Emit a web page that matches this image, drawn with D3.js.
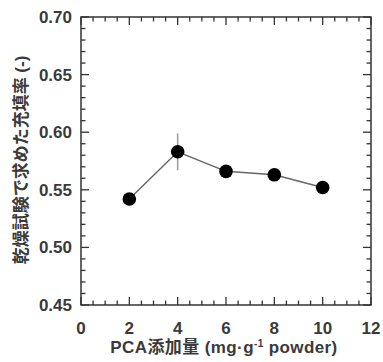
<!DOCTYPE html>
<html>
<head>
<meta charset="utf-8">
<script src="https://cdn.jsdelivr.net/npm/d3@7"></script>
<style>
  body { margin: 0; background: #fff; }
  svg text { font-family: "Liberation Sans", Arial, "Noto Sans CJK JP", sans-serif; fill: #3a3a3a; }
</style>
</head>
<body>
<div id="chart"></div>
<script>
// data
const pcaAmount = [2, 4, 6, 8, 10];
const packingRate = [0.542, 0.583, 0.566, 0.563, 0.552];
const packingErr = [0, 0.016, 0, 0, 0];
const xTicks = [0, 2, 4, 6, 8, 10, 12];
const yTicks = [0.45, 0.50, 0.55, 0.60, 0.65, 0.70];

const width = 383, height = 362;
const margin = {top: 17, right: 12, bottom: 57, left: 81};
const w = width - margin.left - margin.right;
const h = height - margin.top - margin.bottom;

const svg = d3.select("#chart")
    .append("svg")
    .attr("width", width)
    .attr("height", height);

const g = svg.append("g")
    .attr("transform", `translate(${margin.left}, ${margin.top})`);

const x = d3.scaleLinear().domain([0, 12]).range([0, w]);
const y = d3.scaleLinear().domain([0.45, 0.70]).range([h, 0]);

// inward ticks on all four sides
const xMinor = d3.range(0, 12.01, 0.5);
const yMinor = d3.range(0.45, 0.7001, 0.01);
function tickLen(v, step) { return Math.abs(v / step - Math.round(v / step)) < 1e-6 ? 8 : 4.5; }

const ticks = g.append("g").attr("stroke", "#333").attr("stroke-width", 1.3);
xMinor.forEach(v => {
    const L = tickLen(v, 2);
    ticks.append("line").attr("x1", x(v)).attr("x2", x(v)).attr("y1", h).attr("y2", h - L);
    ticks.append("line").attr("x1", x(v)).attr("x2", x(v)).attr("y1", 0).attr("y2", L);
});
yMinor.forEach(v => {
    const L = tickLen(v, 0.05);
    ticks.append("line").attr("y1", y(v)).attr("y2", y(v)).attr("x1", 0).attr("x2", L);
    ticks.append("line").attr("y1", y(v)).attr("y2", y(v)).attr("x1", w).attr("x2", w - L);
});

// frame
g.append("rect")
    .attr("width", w)
    .attr("height", h)
    .attr("fill", "none")
    .attr("stroke", "#333")
    .attr("stroke-width", 1.5);

// tick labels
g.selectAll(".xlab")
    .data(xTicks)
    .enter()
    .append("text")
    .attr("x", d => x(d))
    .attr("y", h + 29)
    .attr("text-anchor", "middle")
    .style("font-size", "17px")
    .style("font-weight", "bold")
    .text(d => d);

g.selectAll(".ylab")
    .data(yTicks)
    .enter()
    .append("text")
    .attr("x", -9)
    .attr("y", d => y(d))
    .attr("dy", "0.35em")
    .attr("text-anchor", "end")
    .style("font-size", "17px")
    .style("font-weight", "bold")
    .text(d => d.toFixed(2));

// error bars
g.selectAll(".err")
    .data(pcaAmount.map((d, i) => ({x: d, v: packingRate[i], e: packingErr[i]})).filter(d => d.e > 0))
    .enter()
    .append("line")
    .attr("x1", d => x(d.x))
    .attr("x2", d => x(d.x))
    .attr("y1", d => y(d.v + d.e))
    .attr("y2", d => y(d.v - d.e))
    .attr("stroke", "#999")
    .attr("stroke-width", 1.5);

// line
const line = d3.line().x((d, i) => x(pcaAmount[i])).y(d => y(d));
g.append("path")
    .datum(packingRate)
    .attr("d", line)
    .attr("fill", "none")
    .attr("stroke", "#666")
    .attr("stroke-width", 1.5);

// markers
g.selectAll(".pt")
    .data(packingRate)
    .enter()
    .append("circle")
    .attr("cx", (d, i) => x(pcaAmount[i]))
    .attr("cy", d => y(d))
    .attr("r", 6.8)
    .attr("fill", "#000");

// axis titles
svg.append("text")
    .attr("x", margin.left + w / 2 - 2)
    .attr("y", 353)
    .attr("text-anchor", "middle")
    .style("font-size", "17px")
    .style("font-weight", "bold")
    .style("letter-spacing", "0.4px")
    .html('PCA添加量 (mg·g<tspan dy="-6" font-size="10px">-1</tspan><tspan dy="6"> powder)</tspan>');

svg.append("text")
    .attr("transform", `translate(27, ${margin.top + 143}) rotate(-90)`)
    .attr("text-anchor", "middle")
    .style("font-size", "17px")
    .style("font-weight", "bold")
    .text("乾燥試験で求めた充填率 (-)");
</script>
</body>
</html>
